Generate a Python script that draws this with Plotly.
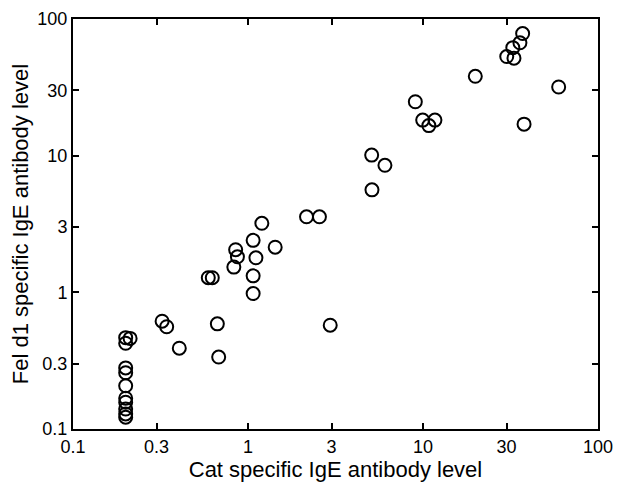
import plotly.graph_objects as go

# values (log-log scatter)
cat_ige = [2.16, 2.56, 1.20, 1.07, 1.43, 0.85, 0.87, 1.11, 0.83, 0.593, 0.625, 1.07, 1.07,
           0.323, 0.343, 0.668, 2.95, 0.405, 0.68,
           0.2, 0.212, 0.2, 0.2, 0.2, 0.2, 0.2, 0.2, 0.2, 0.2, 0.2,
           37.1, 35.8, 32.6, 30.1, 33.1, 19.9, 59.6, 9.04, 9.96, 11.7, 10.8, 37.8,
           5.09, 6.06, 5.11]
feld1_ige = [3.57, 3.57, 3.2, 2.4, 2.14, 2.05, 1.82, 1.79, 1.53, 1.28, 1.28, 1.32, 0.98,
             0.615, 0.56, 0.588, 0.575, 0.39, 0.336,
             0.466, 0.46, 0.424, 0.28, 0.258, 0.207, 0.168, 0.157, 0.14, 0.129, 0.122,
             78.3, 67, 61.7, 53.1, 51.7, 38.1, 31.8, 24.8, 18.2, 18.2, 16.6, 17.0,
             10.1, 8.5, 5.62]

tick_vals = [0.1, 0.3, 1, 3, 10, 30, 100]
tick_text = ["0.1", "0.3", "1", "3", "10", "30", "100"]

fig = go.Figure()
fig.add_trace(go.Scatter(
    x=cat_ige, y=feld1_ige, mode="markers",
    marker=dict(symbol="circle-open", size=13, color="black", line=dict(width=2, color="black")),
    showlegend=False,
))

axis_style = dict(
    type="log", tickvals=tick_vals, ticktext=tick_text,
    ticks="inside", ticklen=6, tickwidth=2, tickcolor="black",
    showline=True, linewidth=2, linecolor="black", mirror="ticks",
    showgrid=False, zeroline=False, automargin=False,
    ticklabeloverflow="allow",
    tickfont=dict(size=18, color="black"),
)

# page body has an 8px default margin, so the figure is 8px smaller than the window
fig.update_layout(
    width=621, height=485,
    margin=dict(l=65, r=31, t=11, b=64),
    paper_bgcolor="white", plot_bgcolor="white",
    font=dict(family="Liberation Sans, Arial, sans-serif", color="black"),
    xaxis=dict(axis_style, range=[-1, 2],
               title=dict(text="Cat specific IgE antibody level", font=dict(size=22, color="black"), standoff=6)),
    yaxis=dict(axis_style, range=[-1, 2],
               title=dict(text="Fel d1 specific IgE antibody level", font=dict(size=22, color="black"), standoff=3)),
)

fig.write_html("out.html")
